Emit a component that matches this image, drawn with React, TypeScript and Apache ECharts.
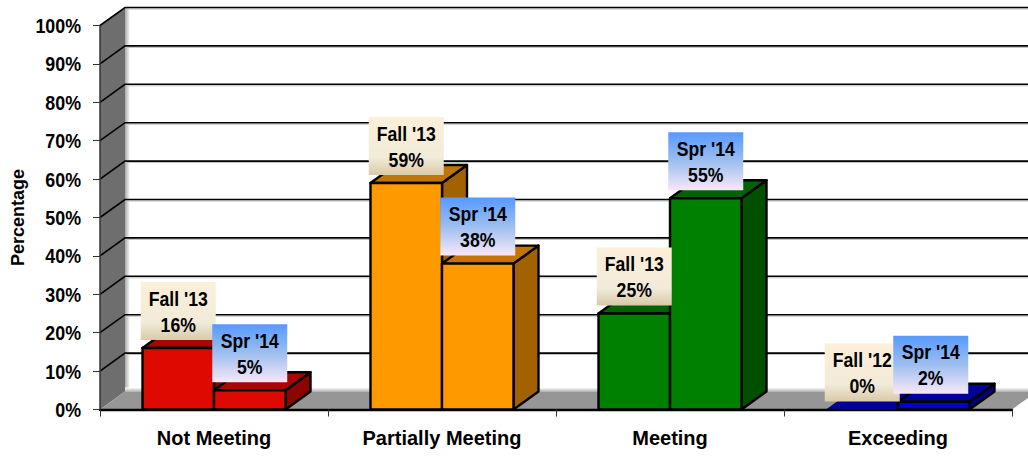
import React, { useEffect, useRef } from "react";
import * as echarts from "echarts";

const categories = ["Not Meeting", "Partially Meeting", "Meeting", "Exceeding"];
const fallValues = [16, 59, 25, 0];
const sprValues = [5, 38, 55, 2];
const fallNames = ["Fall '13", "Fall '13", "Fall '13", "Fall '12"];
const sprNames = ["Spr '14", "Spr '14", "Spr '14", "Spr '14"];
const gridValues = [10, 20, 30, 40, 50, 60, 70, 80, 90, 100];
const tickValues = [0, 10, 20, 30, 40, 50, 60, 70, 80, 90, 100];
const frontColors = ["#DE0A02", "#FF9900", "#008000", "#0000CC"];
const topColors = ["#A80600", "#C27500", "#006200", "#00009A"];
const sideColors = ["#8C0500", "#A36200", "#005000", "#000080"];

const FONT = "'Liberation Sans', Arial, sans-serif";
const DX = 25;
const DY = -18;
const BAR_RATIO = 0.3136;

function barItem(side: number) {
  return (params: any, api: any) => {
    const i = api.value(0);
    const v = api.value(1);
    const band = api.size([1, 0])[0];
    const w = band * BAR_RATIO;
    const c = api.coord([i, v]);
    const b = api.coord([i, 0]);
    const x0 = side < 0 ? c[0] - w : c[0];
    const x1 = x0 + w;
    const yt = c[1];
    const yb = b[1];
    const line = { stroke: "#000", lineWidth: 2.4, lineJoin: "round" };
    const flat = v === 0;
    return {
      type: "group",
      children: [
        {
          type: "polygon",
          shape: { points: [[x1, yt], [x1 + DX, yt + DY], [x1 + DX, yb + DY], [x1, yb]] },
          style: { fill: sideColors[i], ...(flat ? {} : line) },
        },
        {
          type: "polygon",
          shape: { points: [[x0, yt], [x0 + DX, yt + DY], [x1 + DX, yt + DY], [x1, yt]] },
          style: { fill: topColors[i], ...(flat ? { stroke: "#000", lineWidth: 0.5 } : line) },
        },
        {
          type: "rect",
          shape: { x: x0, y: yt, width: w, height: yb - yt },
          style: { fill: frontColors[i], ...(flat ? {} : line) },
        },
      ],
    };
  };
}

function labelItem(side: number, names: string[], stops: [number, string][]) {
  return (params: any, api: any) => {
    const i = api.value(0);
    const v = api.value(1);
    const band = api.size([1, 0])[0];
    const w = band * BAR_RATIO;
    const c = api.coord([i, v]);
    const nudge = side > 0 && i === categories.length - 1 ? -3 : 0;
    const cx = c[0] + (side * w) / 2 + nudge;
    const boxW = 75;
    const boxH = 58;
    const bottom = c[1] - 8;
    return {
      type: "group",
      children: [
        {
          type: "rect",
          shape: { x: cx - boxW / 2, y: bottom - boxH, width: boxW, height: boxH },
          style: {
            fill: new echarts.graphic.LinearGradient(
              0, 0, 0, 1,
              stops.map(([offset, color]) => ({ offset, color }))
            ),
          },
        },
        {
          type: "text",
          x: cx,
          y: bottom - boxH / 2,
          scaleX: 0.84,
          style: {
            text: `${names[i]}\n${v}%`,
            font: `bold 21px ${FONT}`,
            lineHeight: 26,
            fill: "#000",
            align: "center",
            verticalAlign: "middle",
          },
        },
      ],
    };
  };
}

function yLabelItem(params: any, api: any) {
  const v = api.value(1);
  const p = api.coord([0, v]);
  return {
    type: "text",
    x: params.coordSys.x - 19,
    y: p[1],
    scaleX: 0.85,
    style: {
      text: `${v}%`,
      font: `bold 21px ${FONT}`,
      fill: "#000",
      align: "right",
      verticalAlign: "middle",
    },
  };
}

function wallsItem(params: any, api: any) {
  const cs = params.coordSys;
  const x = cs.x;
  const yTop = cs.y;
  const yBot = cs.y + cs.height;
  const xR = cs.x + cs.width;
  return {
    type: "group",
    children: [
      {
        type: "polygon",
        shape: { points: [[x, yTop], [x + DX, yTop + DY], [x + DX, yBot + DY], [x, yBot]] },
        style: { fill: "#6E6E6E" },
      },
      {
        type: "rect",
        shape: { x: x + DX, y: yTop + DY, width: 5, height: cs.height },
        style: {
          fill: new echarts.graphic.LinearGradient(0, 0, 1, 0, [
            { offset: 0, color: "#A8A8A8" },
            { offset: 1, color: "#FFFFFF" },
          ]),
        },
      },
      {
        type: "rect",
        shape: { x: x + DX, y: yBot + DY - 4, width: cs.width, height: 4 },
        style: {
          fill: new echarts.graphic.LinearGradient(0, 0, 0, 1, [
            { offset: 0, color: "#FFFFFF" },
            { offset: 1, color: "#B5B5B5" },
          ]),
        },
      },
      {
        type: "polygon",
        shape: { points: [[x, yBot], [x + DX, yBot + DY], [xR + DX, yBot + DY], [xR, yBot]] },
        style: { fill: "#969696" },
      },
    ],
  };
}

function gridItem(params: any, api: any) {
  const cs = params.coordSys;
  const p = api.coord([0, api.value(1)]);
  const y = p[1];
  const x = cs.x;
  const xR = cs.x + cs.width;
  return {
    type: "group",
    children: [
      {
        type: "line",
        shape: { x1: x + DX, y1: y + DY + 1.5, x2: xR + DX, y2: y + DY + 1.5 },
        style: { stroke: "#C0C0C0", lineWidth: 1 },
      },
      {
        type: "polyline",
        shape: { points: [[x, y], [x + DX, y + DY], [xR + DX, y + DY]] },
        style: { stroke: "#000", lineWidth: 1.6, fill: "none" },
      },
    ],
  };
}

const fallStops: [number, string][] = [
  [0, "#FDEFD8"],
  [0.7, "#F1EBD9"],
  [1, "#D8C9A8"],
];
const sprStops: [number, string][] = [
  [0, "#5799FF"],
  [0.5, "#9DBFEF"],
  [1, "#F8E8F8"],
];

export default function App() {
  const ref = useRef<HTMLDivElement>(null);
  useEffect(() => {
    document.body.style.margin = "0";
    document.body.style.overflow = "hidden";
    const chart = echarts.init(ref.current!, undefined, { renderer: "svg" });
    const pair = (arr: number[]) => arr.map((v, i) => [i, v]);
    chart.setOption({
      animation: false,
      backgroundColor: "#fff",
      grid: { left: 100, top: 25.5, width: 912, height: 384, containLabel: false, outerBoundsMode: "none" },
      xAxis: {
        type: "category",
        data: categories,
        axisLine: { show: true, lineStyle: { color: "#000", width: 2.4 } },
        axisTick: { show: true, length: 7, alignWithLabel: false, lineStyle: { color: "#333", width: 1 } },
        axisLabel: { color: "#000", fontFamily: FONT, fontWeight: "bold", fontSize: 20, margin: 18 },
      },
      yAxis: {
        type: "value",
        min: 0,
        max: 100,
        interval: 10,
        name: "Percentage",
        nameLocation: "middle",
        nameRotate: 90,
        nameGap: 73,
        nameTextStyle: { color: "#000", fontFamily: FONT, fontWeight: "bold", fontSize: 18 },
        axisLine: { show: true, lineStyle: { color: "#333", width: 1.5 } },
        axisTick: { show: true, length: 7, lineStyle: { color: "#333", width: 1 } },
        axisLabel: { show: false },
        splitLine: { show: false },
      },
      series: [
        { type: "custom", z: -3, coordinateSystem: "cartesian2d", renderItem: wallsItem, data: [[0, 0]], silent: true },
        { type: "custom", z: -2, coordinateSystem: "cartesian2d", renderItem: gridItem, data: gridValues.map((v) => [0, v]), silent: true },
        { type: "custom", z: 2, coordinateSystem: "cartesian2d", renderItem: yLabelItem, data: tickValues.map((v) => [0, v]), silent: true },
        { type: "custom", z: 3, coordinateSystem: "cartesian2d", renderItem: barItem(-1), data: pair(fallValues) },
        { type: "custom", z: 4, coordinateSystem: "cartesian2d", renderItem: barItem(1), data: pair(sprValues) },
        { type: "custom", z: 5, coordinateSystem: "cartesian2d", renderItem: labelItem(-1, fallNames, fallStops), data: pair(fallValues) },
        { type: "custom", z: 6, coordinateSystem: "cartesian2d", renderItem: labelItem(1, sprNames, sprStops), data: pair(sprValues) },
      ],
    });
    return () => chart.dispose();
  }, []);
  return <div ref={ref} style={{ width: 1028, height: 457 }} />;
}
